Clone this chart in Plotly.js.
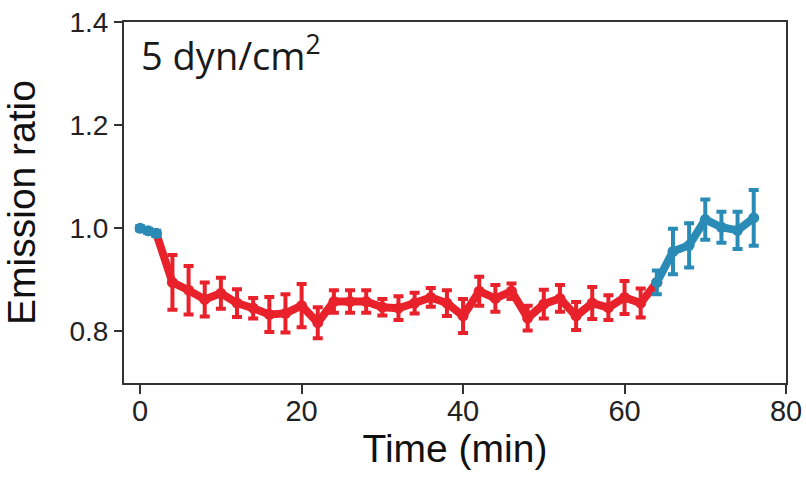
<!DOCTYPE html>
<html>
<head>
<meta charset="utf-8">
<script src="https://cdn.plot.ly/plotly-3.0.1.min.js"></script>
<style>html,body{margin:0;padding:0;background:#fff;}#chart{width:806px;height:486px;}</style>
</head>
<body>
<div id="chart"></div>
<script>
// Baseline (blue, before shear)
const baseT = [0, 1, 2];
const baseV = [1.0, 0.995, 0.99];
const baseE = [0.004, 0.004, 0.005];

// Shear period (red)
const shearT = [2, 4, 6, 8, 10, 12, 14, 16, 18, 20, 22, 24, 26, 28, 30, 32, 34, 36, 38, 40, 42, 44, 46, 48, 50, 52, 54, 56, 58, 60, 62, 64];
const shearV = [0.99, 0.895, 0.88, 0.862, 0.874, 0.855, 0.845, 0.833, 0.835, 0.85, 0.817, 0.858, 0.858, 0.858, 0.847, 0.845, 0.855, 0.866, 0.855, 0.83, 0.878, 0.864, 0.878, 0.826, 0.853, 0.864, 0.83, 0.855, 0.846, 0.866, 0.855, 0.895];
const shearE = [0, 0.053, 0.047, 0.033, 0.03, 0.027, 0.02, 0.034, 0.037, 0.042, 0.03, 0.022, 0.022, 0.022, 0.016, 0.023, 0.02, 0.018, 0.025, 0.033, 0.028, 0.026, 0.015, 0.024, 0.028, 0.026, 0.027, 0.031, 0.024, 0.032, 0.028, 0];

// Recovery (blue, after shear)
const recT = [64, 66, 68, 70, 72, 74, 76];
const recV = [0.895, 0.955, 0.967, 1.017, 1.002, 0.996, 1.02];
const recE = [0.023, 0.044, 0.043, 0.039, 0.03, 0.036, 0.054];

const xTicks = [0, 20, 40, 60, 80];
const yTicks = [0.8, 1.0, 1.2, 1.4];
const yTickText = ['0.8', '1.0', '1.2', '1.4'];

const RED = '#E8212B';
const BLUE = '#2B8BB7';

function trace(x, y, e, color) {
  return {
    x: x, y: y, type: 'scatter', mode: 'lines+markers',
    line: {color: color, width: 8},
    marker: {color: color, size: 11},
    error_y: {type: 'data', array: e, visible: true, color: color, thickness: 4, width: 5},
    hoverinfo: 'skip', showlegend: false
  };
}

const data = [
  trace(shearT, shearV, shearE, RED),
  trace(baseT, baseV, baseE, BLUE),
  trace(recT, recV, recE, BLUE)
];

const layout = {
  width: 806, height: 486,
  margin: {l: 124, r: 20, t: 22, b: 103},
  paper_bgcolor: '#fff', plot_bgcolor: '#fff',
  font: {family: 'Liberation Sans, Arial, sans-serif', color: '#222'},
  xaxis: {
    range: [-2, 80], tickvals: xTicks, ticks: 'outside', ticklen: 9, tickwidth: 2, tickcolor: '#333',
    showline: true, linecolor: '#333', linewidth: 2, mirror: true, showgrid: false, zeroline: false,
    tickfont: {size: 29, color: '#222'}, ticklabelstandoff: -8,
    title: {text: 'Time (min)', font: {size: 39, color: '#111'}, standoff: 0}
  },
  yaxis: {
    range: [0.7, 1.4], tickvals: yTicks, ticktext: yTickText, ticks: 'outside', ticklen: 8, tickwidth: 2, tickcolor: '#333',
    showline: true, linecolor: '#333', linewidth: 2, mirror: true, showgrid: false, zeroline: false,
    tickfont: {size: 28, color: '#222'},
    title: {text: 'Emission ratio', font: {size: 39, color: '#111'}, standoff: 22}
  },
  annotations: [{
    xref: 'paper', yref: 'paper', x: 0.022, y: 0.995, xanchor: 'left', yanchor: 'top',
    text: '5 dyn/cm<sup>2</sup>', showarrow: false,
    font: {family: 'Open Sans, sans-serif', size: 38, color: '#1a1a1a'}
  }]
};

Plotly.newPlot('chart', data, layout, {displayModeBar: false, staticPlot: true});
</script>
</body>
</html>
